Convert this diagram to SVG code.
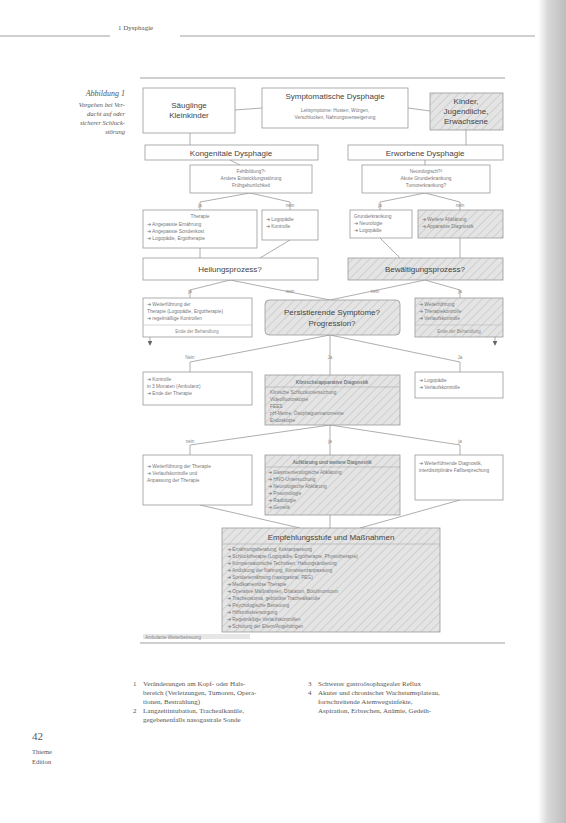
<svg xmlns="http://www.w3.org/2000/svg" width="566" height="823" viewBox="0 0 566 823">
<defs>
<pattern id="hatch" width="6" height="6" patternUnits="userSpaceOnUse" patternTransform="rotate(45)">
<rect width="6" height="6" fill="#e4e4e4"/>
<line x1="0" y1="0" x2="0" y2="6" stroke="#cfcfcf" stroke-width="2"/>
</pattern>
<linearGradient id="spine" x1="0" y1="0" x2="1" y2="0">
<stop offset="0" stop-color="#ffffff"/>
<stop offset="0.35" stop-color="#d8d8d8"/>
<stop offset="1" stop-color="#bdbdbd"/>
</linearGradient>
<marker id="ah" markerWidth="6" markerHeight="6" refX="5" refY="3" orient="auto">
<path d="M0,0 L6,3 L0,6 z" fill="#666"/>
</marker>
</defs>
<style>
.box{fill:#fff;stroke:#999;stroke-width:0.8}
.sh{fill:url(#hatch);stroke:#999;stroke-width:0.8}
.t{font-family:"Liberation Sans",Arial,sans-serif;fill:#555}
.h{font-size:8px;fill:#444}
.s{font-size:4.8px;fill:#777}
.l{font-size:4.5px;fill:#888}
.c{stroke:#999;stroke-width:0.8;fill:none}
.serif{font-family:"Liberation Serif","Times New Roman",serif;fill:#555}
.it{font-style:italic}
</style>
<rect width="566" height="823" fill="#fff"/>
<rect x="538" y="0" width="28" height="823" fill="url(#spine)"/>

<g id="header">
<line x1="0" y1="36" x2="110" y2="36" stroke="#888" stroke-width="0.8"/>
<line x1="180" y1="36" x2="535" y2="36" stroke="#888" stroke-width="0.8"/>
<text x="118" y="30" class="serif" font-size="7">1   Dysphagie</text>
</g>

<g id="caption">
<text x="125" y="96" class="serif it" font-size="8" text-anchor="end">Abbildung 1</text>
<text x="125" y="107" class="serif it" font-size="6.5" text-anchor="end">Vorgehen bei Ver-</text>
<text x="125" y="116" class="serif it" font-size="6.5" text-anchor="end">dacht auf oder</text>
<text x="125" y="125" class="serif it" font-size="6.5" text-anchor="end">sicherer Schluck-</text>
<text x="125" y="134" class="serif it" font-size="6.5" text-anchor="end">störung</text>
</g>

<g id="frame">
<line x1="140" y1="78" x2="505" y2="78" stroke="#888" stroke-width="0.8"/>
<line x1="140" y1="643" x2="505" y2="643" stroke="#888" stroke-width="0.8"/>
</g>

<g id="connectors" class="c">
<path d="M262 108 L235 110"/>
<path d="M408 108 L430 111"/>
<path d="M190 133 L190 145"/>
<path d="M466 130 L466 145"/>
<path d="M230 160 L240 165"/>
<path d="M425 160 L425 165"/>
<path d="M250 193 L200 202 L200 210"/>
<path d="M250 193 L290 202 L290 210"/>
<path d="M425 193 L380 202 L380 210"/>
<path d="M425 193 L460 202 L460 210"/>
<path d="M200 248 L200 258"/>
<path d="M290 240 L260 258"/>
<path d="M380 238 L400 258"/>
<path d="M460 238 L460 258"/>
<path d="M230 280 L190 290 L190 298"/>
<path d="M230 280 L330 300"/>
<path d="M425 280 L330 300"/>
<path d="M425 280 L460 290 L460 298"/>
<path d="M150 337 L150 345" marker-end="url(#ah)"/>
<path d="M495 337 L495 345" marker-end="url(#ah)"/>
<path d="M330 335 L190 362 L190 372"/>
<path d="M330 335 L330 375"/>
<path d="M330 335 L460 362 L460 372"/>
<path d="M330 425 L190 445 L190 455"/>
<path d="M330 425 L330 455"/>
<path d="M330 425 L460 445 L460 455"/>
<path d="M200 505 L300 528"/>
<path d="M330 515 L330 528"/>
<path d="M460 500 L360 528"/>
</g>

<g id="n-kinder-top">
<rect x="143" y="88" width="92" height="45" class="box"/>
<text x="189" y="108" class="t h" text-anchor="middle">Säuglinge</text>
<text x="189" y="118" class="t h" text-anchor="middle">Kleinkinder</text>
</g>
<g id="n-symptom">
<rect x="262" y="88" width="146" height="40" class="box"/>
<text x="335" y="99" class="t h" text-anchor="middle">Symptomatische Dysphagie</text>
<text x="335" y="112" class="t s" text-anchor="middle">Leitsymptome: Husten, Würgen,</text>
<text x="335" y="119" class="t s" text-anchor="middle">Verschlucken, Nahrungsverweigerung</text>
</g>
<g id="n-erwachsene">
<rect x="430" y="93" width="73" height="37" class="sh"/>
<text x="466" y="104" class="t h" text-anchor="middle">Kinder,</text>
<text x="466" y="114" class="t h" text-anchor="middle">Jugendliche,</text>
<text x="466" y="124" class="t h" text-anchor="middle">Erwachsene</text>
</g>

<g id="n-kongenital">
<rect x="145" y="145" width="173" height="15" class="box"/>
<text x="231" y="156" class="t h" text-anchor="middle">Kongenitale Dysphagie</text>
</g>
<g id="n-erworben">
<rect x="348" y="145" width="155" height="15" class="box"/>
<text x="425" y="156" class="t h" text-anchor="middle">Erworbene Dysphagie</text>
</g>

<g id="n-q-left">
<rect x="190" y="165" width="122" height="28" class="box"/>
<text x="251" y="173" class="t s" text-anchor="middle">Fehlbildung?¹</text>
<text x="251" y="180" class="t s" text-anchor="middle">Andere Entwicklungsstörung</text>
<text x="251" y="187" class="t s" text-anchor="middle">Frühgeburtlichkeit</text>
</g>
<g id="n-q-right">
<rect x="362" y="165" width="128" height="28" class="box"/>
<text x="426" y="173" class="t s" text-anchor="middle">Neurologisch?²</text>
<text x="426" y="180" class="t s" text-anchor="middle">Akute Grunderkrankung</text>
<text x="426" y="187" class="t s" text-anchor="middle">Tumorerkrankung?</text>
</g>

<g id="labels1" class="t l">
<text x="200" y="207" text-anchor="middle">ja</text>
<text x="290" y="207" text-anchor="middle">nein</text>
<text x="380" y="207" text-anchor="middle">ja</text>
<text x="460" y="207" text-anchor="middle">nein</text>
</g>

<g id="n-therapie">
<rect x="143" y="210" width="114" height="38" class="box"/>
<text x="200" y="218" class="t s" text-anchor="middle">Therapie</text>
<text x="147" y="226" class="t s">➔ Angepasste Ernährung</text>
<text x="147" y="233" class="t s">➔ Angepasste Sondenkost</text>
<text x="147" y="240" class="t s">➔ Logopädie, Ergotherapie</text>
</g>
<g id="n-kontrolle1">
<rect x="262" y="210" width="56" height="30" class="box"/>
<text x="266" y="221" class="t s">➔ Logopädie</text>
<text x="266" y="228" class="t s">➔ Kontrolle</text>
</g>
<g id="n-grund">
<rect x="350" y="210" width="62" height="28" class="box"/>
<text x="354" y="218" class="t s">Grunderkrankung</text>
<text x="354" y="225" class="t s">➔ Neurologie</text>
<text x="354" y="232" class="t s">➔ Logopädie</text>
</g>
<g id="n-abklaerung">
<rect x="418" y="210" width="85" height="28" class="sh"/>
<text x="422" y="221" class="t s">➔ Weitere Abklärung</text>
<text x="422" y="228" class="t s">➔ Apparative Diagnostik</text>
</g>

<g id="n-heilung">
<rect x="143" y="258" width="175" height="22" class="box"/>
<text x="230" y="272" class="t h" text-anchor="middle">Heilungsprozess?</text>
</g>
<g id="n-bewaeltigung">
<rect x="348" y="258" width="155" height="22" class="sh"/>
<text x="425" y="272" class="t h" text-anchor="middle">Bewältigungsprozess?</text>
</g>

<g id="labels2" class="t l">
<text x="190" y="293" text-anchor="middle">ja</text>
<text x="290" y="293" text-anchor="middle">nein</text>
<text x="375" y="293" text-anchor="middle">nein</text>
<text x="460" y="293" text-anchor="middle">ja</text>
</g>

<g id="n-weiter-left">
<rect x="143" y="298" width="109" height="39" class="box"/>
<text x="147" y="306" class="t s">➔ Weiterführung der</text>
<text x="147" y="313" class="t s">Therapie (Logopädie, Ergotherapie)</text>
<text x="147" y="320" class="t s">➔ regelmäßige Kontrollen</text>
<line x1="143" y1="325" x2="252" y2="325" stroke="#bbb" stroke-width="0.6"/>
<text x="197" y="333" class="t l" text-anchor="middle">Ende der Behandlung</text>
</g>
<g id="n-persist">
<rect x="265" y="300" width="135" height="35" rx="4" class="sh"/>
<text x="332" y="315" class="t h" text-anchor="middle">Persistierende Symptome?</text>
<text x="332" y="326" class="t h" text-anchor="middle">Progression?</text>
</g>
<g id="n-weiter-right">
<rect x="415" y="298" width="88" height="39" class="sh"/>
<text x="419" y="306" class="t s">➔ Weiterführung</text>
<text x="419" y="313" class="t s">➔ Therapiekontrolle</text>
<text x="419" y="320" class="t s">➔ Verlaufskontrolle</text>
<line x1="415" y1="325" x2="503" y2="325" stroke="#bbb" stroke-width="0.6"/>
<text x="459" y="333" class="t l" text-anchor="middle">Ende der Behandlung</text>
</g>

<g id="labels3" class="t l">
<text x="190" y="359" text-anchor="middle">Nein</text>
<text x="330" y="359" text-anchor="middle">Ja</text>
<text x="460" y="359" text-anchor="middle">Ja</text>
</g>

<g id="n-kontrolle2">
<rect x="143" y="372" width="109" height="33" class="box"/>
<text x="147" y="381" class="t s">➔ Kontrolle</text>
<text x="147" y="388" class="t s">    in 3 Monaten (Ambulanz)</text>
<text x="147" y="395" class="t s">➔ Ende der Therapie</text>
</g>
<g id="n-klinisch">
<rect x="265" y="375" width="135" height="50" class="sh"/>
<text x="332" y="384" class="t s" text-anchor="middle" font-weight="bold">Klinische/apparative Diagnostik</text>
<line x1="265" y1="387" x2="400" y2="387" stroke="#aaa" stroke-width="0.6"/>
<text x="270" y="394" class="t s">Klinische Schluckuntersuchung</text>
<text x="270" y="401" class="t s">Videofluoroskopie</text>
<text x="270" y="408" class="t s">FEES</text>
<text x="270" y="415" class="t s">pH-Metrie, Ösophagusmanometrie</text>
<text x="270" y="422" class="t s">Endoskopie</text>
</g>
<g id="n-logo">
<rect x="415" y="372" width="88" height="26" class="box"/>
<text x="419" y="382" class="t s">➔ Logopädie</text>
<text x="419" y="389" class="t s">➔ Verlaufskontrolle</text>
</g>

<g id="labels4" class="t l">
<text x="190" y="443" text-anchor="middle">nein</text>
<text x="330" y="443" text-anchor="middle">ja</text>
<text x="460" y="443" text-anchor="middle">ja</text>
</g>

<g id="n-verlauf">
<rect x="143" y="455" width="109" height="50" class="box"/>
<text x="147" y="468" class="t s">➔ Weiterführung der Therapie</text>
<text x="147" y="475" class="t s">➔ Verlaufskontrolle und</text>
<text x="147" y="482" class="t s">    Anpassung der Therapie</text>
</g>
<g id="n-aufklaerung">
<rect x="265" y="455" width="135" height="60" class="sh"/>
<text x="332" y="464" class="t s" text-anchor="middle" font-weight="bold">Aufklärung und weitere Diagnostik</text>
<line x1="265" y1="467" x2="400" y2="467" stroke="#aaa" stroke-width="0.6"/>
<text x="268" y="474" class="t s">➔ Gastroenterologische Abklärung</text>
<text x="268" y="481" class="t s">➔ HNO-Untersuchung</text>
<text x="268" y="488" class="t s">➔ Neurologische Abklärung</text>
<text x="268" y="495" class="t s">➔ Pneumologie</text>
<text x="268" y="502" class="t s">➔ Radiologie</text>
<text x="268" y="509" class="t s">➔ Genetik</text>
</g>
<g id="n-fall">
<rect x="415" y="455" width="88" height="45" class="box"/>
<text x="419" y="465" class="t s">➔ Weiterführende Diagnostik,</text>
<text x="419" y="472" class="t s">interdisziplinäre Fallbesprechung</text>
</g>

<g id="n-empfehlung">
<rect x="222" y="528" width="218" height="104" class="sh"/>
<text x="331" y="540" class="t h" text-anchor="middle">Empfehlungsstufe und Maßnahmen</text>
<line x1="222" y1="544" x2="440" y2="544" stroke="#aaa" stroke-width="0.6"/>
<text x="227" y="551" class="t s">➔ Ernährungsberatung, Kostanpassung</text>
<text x="227" y="558" class="t s">➔ Schlucktherapie (Logopädie, Ergotherapie, Physiotherapie)</text>
<text x="227" y="565" class="t s">➔ Kompensatorische Techniken, Haltungsänderung</text>
<text x="227" y="572" class="t s">➔ Andickung der Nahrung, Konsistenzanpassung</text>
<text x="227" y="579" class="t s">➔ Sondenernährung (nasogastral, PEG)</text>
<text x="227" y="586" class="t s">➔ Medikamentöse Therapie</text>
<text x="227" y="593" class="t s">➔ Operative Maßnahmen, Dilatation, Botulinumtoxin</text>
<text x="227" y="600" class="t s">➔ Tracheostoma, geblockte Trachealkanüle</text>
<text x="227" y="607" class="t s">➔ Psychologische Betreuung</text>
<text x="227" y="614" class="t s">➔ Hilfsmittelversorgung</text>
<text x="227" y="621" class="t s">➔ Regelmäßige Verlaufskontrollen</text>
<text x="227" y="628" class="t s">➔ Schulung der Eltern/Angehörigen</text>
</g>

<g id="n-ambulant">
<rect x="143" y="634" width="107" height="5" fill="#e6e6e6"/>
<text x="145" y="638.5" class="t l">Ambulante Weiterbetreuung</text>
</g>

<g id="footnotes" class="serif" font-size="7">
<text x="133" y="686">1</text>
<text x="143" y="686">Veränderungen am Kopf- oder Hals-</text>
<text x="143" y="695">bereich (Verletzungen, Tumoren, Opera-</text>
<text x="143" y="704">tionen, Bestrahlung)</text>
<text x="133" y="713">2</text>
<text x="143" y="713">Langzeitintubation,        Trachealkanüle,</text>
<text x="143" y="722">gegebenenfalls nasogastrale Sonde</text>
<text x="308" y="686">3</text>
<text x="318" y="686">Schwerer gastroösophagealer Reflux</text>
<text x="308" y="695">4</text>
<text x="318" y="695">Akuter und chronischer Wachstumsplateau,</text>
<text x="318" y="704">fortschreitende        Atemwegsinfekte,</text>
<text x="318" y="713">Aspiration, Erbrechen, Anämie, Gedeih-</text>
</g>

<g id="pagefoot" class="serif">
<text x="32" y="740" font-size="11">42</text>
<text x="32" y="754" font-size="6.5">Thieme</text>
<text x="32" y="764" font-size="6.5">Edition</text>
</g>
</svg>
